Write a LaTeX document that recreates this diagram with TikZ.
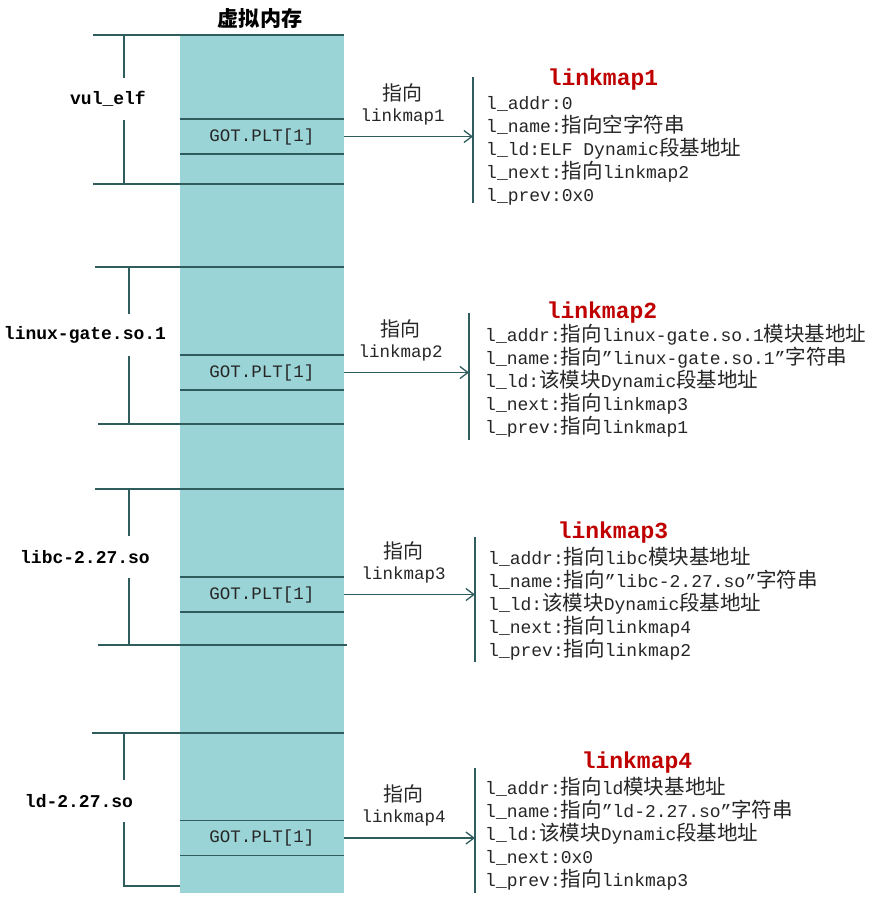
\documentclass[tikz,border=0pt]{standalone}
\usepackage{fontspec}
\setmainfont{Liberation Mono}
\newfontfamily\zhfont[Scale=1.14]{Noto Sans CJK SC}
\newcommand{\zh}[1]{{\zhfont #1}}
\usetikzlibrary{matrix,arrows.meta}
\definecolor{memteal}{HTML}{9BD4D6}
\definecolor{linegray}{HTML}{2F5C5D}
\definecolor{mapred}{HTML}{C00000}
\definecolor{textgray}{HTML}{262626}

\tikzset{
  segline/.style={draw=linegray, line width=1.5pt},
  ptrarrow/.style={segline, line width=1.3pt, -{Straight Barb[length=8pt,width=12pt]}},
  gotcell/.style={minimum width=164pt, minimum height=35pt, inner sep=0pt, text=textgray, font=\fontsize{17.5}{19}\selectfont},
  seglabel/.style={minimum height=42pt, inner sep=0pt, font=\fontsize{18}{20}\selectfont\bfseries},
  ptrlabel/.style={above, align=center, inner ysep=11pt, xshift=-6pt, text=textgray, font=\fontsize{17.5}{21}\selectfont},
  maptitle/.style={text=mapred, font=\fontsize{23}{25}\selectfont\bfseries},
  infolist/.style={matrix of nodes, anchor=north west, inner sep=0pt, row sep=0pt,
    nodes={anchor=west, text height=13pt, text depth=4pt, inner xsep=0pt, inner ysep=3pt, text=textgray, font=\fontsize{18}{21}\selectfont}}
}

\begin{document}
\begin{tikzpicture}[x=1pt, y=-1pt]
\useasboundingbox (0,0) rectangle (888,903);
\fill[white] (0,0) rectangle (888,903);

% memory column
\fill[memteal] (180,35) rectangle (344,893);
\node[font=\fontsize{18.5}{21}\selectfont\zhfont\bfseries] (memtitle) at (260,18) {虚拟内存};

% segments on the left
\draw[segline] (93,35) -- (344,35);
\draw[segline] (93,184) -- (344,184);
\node[seglabel] (seg1) at (108,99) {vul\_elf};
\coordinate (seg1t) at (124,35);
\coordinate (seg1b) at (124,184);
\draw[segline] (seg1t) -- (seg1t |- seg1.north);
\draw[segline] (seg1t |- seg1.south) -- (seg1b);

\draw[segline] (95,267) -- (344,267);
\draw[segline] (98,424) -- (344,424);
\node[seglabel] (seg2) at (85,335) {linux-gate.so.1};
\coordinate (seg2t) at (129,267);
\coordinate (seg2b) at (129,424);
\draw[segline] (seg2t) -- (seg2t |- seg2.north);
\draw[segline] (seg2t |- seg2.south) -- (seg2b);

\draw[segline] (95,489) -- (344,489);
\draw[segline] (98,645) -- (347,645);
\node[seglabel] (seg3) at (85,557) {libc-2.27.so};
\coordinate (seg3t) at (129,489);
\coordinate (seg3b) at (129,645);
\draw[segline] (seg3t) -- (seg3t |- seg3.north);
\draw[segline] (seg3t |- seg3.south) -- (seg3b);

\draw[segline] (92,733) -- (344,733);
\node[seglabel] (seg4) at (79,801) {ld-2.27.so};
\coordinate (seg4t) at (124,733);
\coordinate (seg4c) at (124,857);
\coordinate (seg4b) at (124,886);
\coordinate (seg4e) at (180,886);
\draw[segline] (seg4t) -- (seg4t |- seg4.north);
\draw[segline] (seg4t |- seg4.south) -- (seg4c);
\draw[line width=2.6pt, black!20, xshift=1.5pt, yshift=-1.5pt] (seg4c) -- (seg4b) -- (seg4e);
\draw[segline, line width=2.6pt] (seg4c) -- (seg4b) -- (seg4e);

% GOT.PLT[1] cells
\node[gotcell] (got1) at (262,136.5) {GOT.PLT[1]};
\node[gotcell] (got2) at (262,372.5) {GOT.PLT[1]};
\node[gotcell] (got3) at (262,594.5) {GOT.PLT[1]};
\node[gotcell] (got4) at (262,838) {GOT.PLT[1]};
\foreach \g in {got1,got2,got3,got4}
  \draw[segline] (\g.north west) -- (\g.north east) (\g.south west) -- (\g.south east);

% linkmap1
\coordinate (bar1t) at (473,77);
\coordinate (bar1b) at (473,203);
\draw[segline] (bar1t) -- (bar1b);
\draw[ptrarrow] (got1.east) -- node[ptrlabel] {\zh{指向}\\linkmap1} (got1.east -| bar1t);
\node[maptitle] (title1) at (603,80) {linkmap1};
\matrix (info1) [infolist] at (486,93.5) {
  l\_addr:0 \\
  l\_name:\zh{指向空字符串} \\
  l\_ld:ELF Dynamic\zh{段基地址} \\
  l\_next:\zh{指向}linkmap2 \\
  l\_prev:0x0 \\
};

% linkmap2
\coordinate (bar2t) at (469,313);
\coordinate (bar2b) at (469,440);
\draw[segline] (bar2t) -- (bar2b);
\draw[ptrarrow] (got2.east) -- node[ptrlabel] {\zh{指向}\\linkmap2} (got2.east -| bar2t);
\node[maptitle] (title2) at (602,313) {linkmap2};
\matrix (info2) [infolist] at (485,325.5) {
  l\_addr:\zh{指向}linux-gate.so.1\zh{模块基地址} \\
  l\_name:\zh{指向}”linux-gate.so.1”\zh{字符串} \\
  l\_ld:\zh{该模块}Dynamic\zh{段基地址} \\
  l\_next:\zh{指向}linkmap3 \\
  l\_prev:\zh{指向}linkmap1 \\
};

% linkmap3
\coordinate (bar3t) at (475,537);
\coordinate (bar3b) at (475,662);
\draw[segline] (bar3t) -- (bar3b);
\draw[ptrarrow] (got3.east) -- node[ptrlabel] {\zh{指向}\\linkmap3} (got3.east -| bar3t);
\node[maptitle] (title3) at (613,533) {linkmap3};
\matrix (info3) [infolist] at (488,548.5) {
  l\_addr:\zh{指向}libc\zh{模块基地址} \\
  l\_name:\zh{指向}”libc-2.27.so”\zh{字符串} \\
  l\_ld:\zh{该模块}Dynamic\zh{段基地址} \\
  l\_next:\zh{指向}linkmap4 \\
  l\_prev:\zh{指向}linkmap2 \\
};

% linkmap4
\coordinate (bar4t) at (475,768);
\coordinate (bar4b) at (475,893);
\draw[segline] (bar4t) -- (bar4b);
\draw[ptrarrow] (got4.east) -- node[ptrlabel] {\zh{指向}\\linkmap4} (got4.east -| bar4t);
\node[maptitle] (title4) at (637,763) {linkmap4};
\matrix (info4) [infolist] at (485,778.5) {
  l\_addr:\zh{指向}ld\zh{模块基地址} \\
  l\_name:\zh{指向}”ld-2.27.so”\zh{字符串} \\
  l\_ld:\zh{该模块}Dynamic\zh{段基地址} \\
  l\_next:0x0 \\
  l\_prev:\zh{指向}linkmap3 \\
};
\end{tikzpicture}
\end{document}
